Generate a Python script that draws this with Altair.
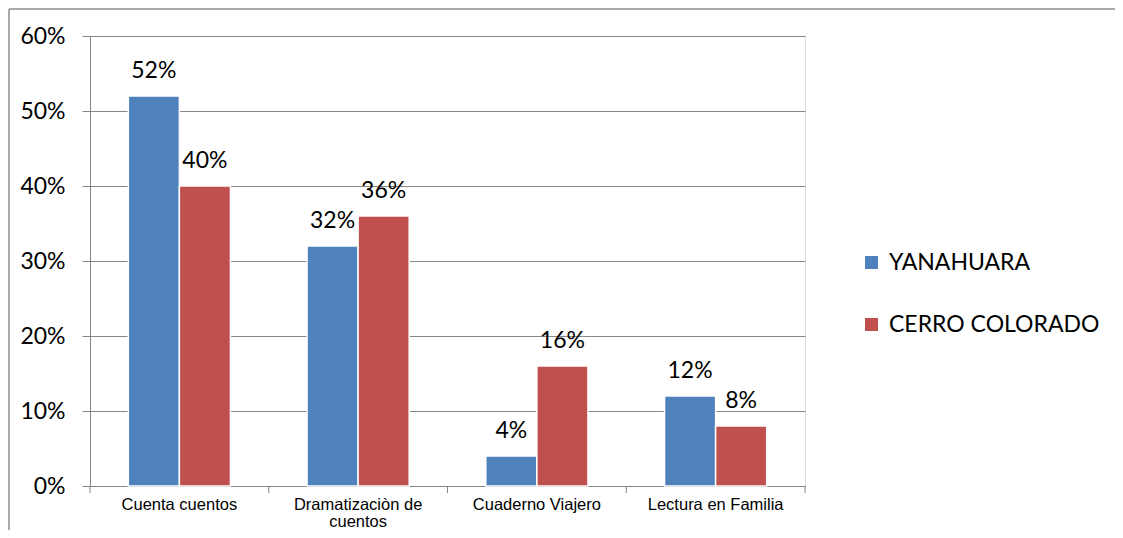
import altair as alt
import pandas as pd

categories = ["Cuenta cuentos", "Dramatizaciòn de cuentos", "Cuaderno Viajero", "Lectura en Familia"]
series = ["YANAHUARA", "CERRO COLORADO"]
yanahuara = [0.52, 0.32, 0.04, 0.12]
cerro_colorado = [0.40, 0.36, 0.16, 0.08]
y_ticks = [0.0, 0.1, 0.2, 0.3, 0.4, 0.5, 0.6]
colors = ["#4F81BD", "#C0504D"]

rows = []
for c, a, b in zip(categories, yanahuara, cerro_colorado):
    rows.append({"cat": c, "serie": series[0], "val": a})
    rows.append({"cat": c, "serie": series[1], "val": b})
df = pd.DataFrame(rows)
cats_df = pd.DataFrame({"cat": categories})

GRAY = "#868686"
W, H = 715, 450
PAD_R, PAD_B = 310, 44

x_enc = alt.X(
    "cat:N", sort=categories,
    scale=alt.Scale(paddingInner=0, paddingOuter=0),
    axis=alt.Axis(
        title=None, labelAngle=0, ticks=False, domainColor=GRAY, domainWidth=1,
        labelFont="Liberation Sans", labelFontSize=16.5, labelColor="black",
        labelPadding=10, labelLineHeight=17, grid=False,
        labelExpr="datum.label == 'Dramatizaciòn de cuentos' ? ['Dramatizaciòn de', 'cuentos'] : datum.label",
    ),
)
xo_enc = alt.XOffset("serie:N", sort=series, scale=alt.Scale(paddingOuter=0.75, paddingInner=0))
y_enc = alt.Y(
    "val:Q", scale=alt.Scale(domain=[0, 0.6]),
    axis=alt.Axis(
        title=None, values=y_ticks, format=".0%", tickSize=8, tickColor=GRAY,
        domainColor=GRAY, gridColor=GRAY, labelFont="Lato", labelFontSize=23,
        labelColor="black", labelPadding=17,
    ),
)

frame_top = alt.Chart(cats_df.head(1)).mark_rule(color="#8c8c8c", strokeWidth=1.5).encode(
    x=alt.value(-81), x2=alt.value(W + PAD_R), y=alt.value(-27)
)
frame_left = alt.Chart(cats_df.head(1)).mark_rule(color="#8c8c8c", strokeWidth=1.5).encode(
    x=alt.value(-81), y=alt.value(-27), y2=alt.value(H + PAD_B)
)

bars = alt.Chart(df).mark_bar(stroke="white", strokeWidth=1.5).encode(
    x=x_enc, xOffset=xo_enc, y=y_enc,
    color=alt.Color(
        "serie:N", sort=series, scale=alt.Scale(domain=series, range=colors),
        legend=alt.Legend(
            title=None, orient="none", legendX=770, legendY=215, symbolType="square",
            symbolSize=169, symbolStrokeWidth=0, labelFont="Lato", labelFontSize=23,
            labelColor="black", rowPadding=38, labelOffset=6, padding=0, labelLimit=400,
        ),
    ),
)

labels = alt.Chart(df).mark_text(
    baseline="alphabetic", dy=-18, font="Lato", fontSize=23, color="black"
).encode(
    x=alt.X("cat:N", sort=categories), xOffset=xo_enc, y="val:Q",
    text=alt.Text("val:Q", format=".0%"),
)

ticks = alt.Chart(cats_df).mark_rule(color=GRAY, strokeWidth=1).encode(
    x=alt.X("cat:N", sort=categories, bandPosition=0), y=alt.value(H), y2=alt.value(H + 7)
)
end_tick = alt.Chart(cats_df.head(1)).mark_rule(color=GRAY, strokeWidth=1).encode(
    x=alt.value(W), y=alt.value(H), y2=alt.value(H + 7)
)

chart = alt.layer(frame_top, frame_left, bars, labels, ticks, end_tick).properties(
    width=W, height=H,
    autosize=alt.AutoSizeParams(type="none"),
    padding={"left": 82, "top": 28, "right": PAD_R, "bottom": PAD_B},
).configure_view(stroke=None).configure(background="white")

chart.save("out.html", embed_options={"renderer": "svg", "actions": False})
